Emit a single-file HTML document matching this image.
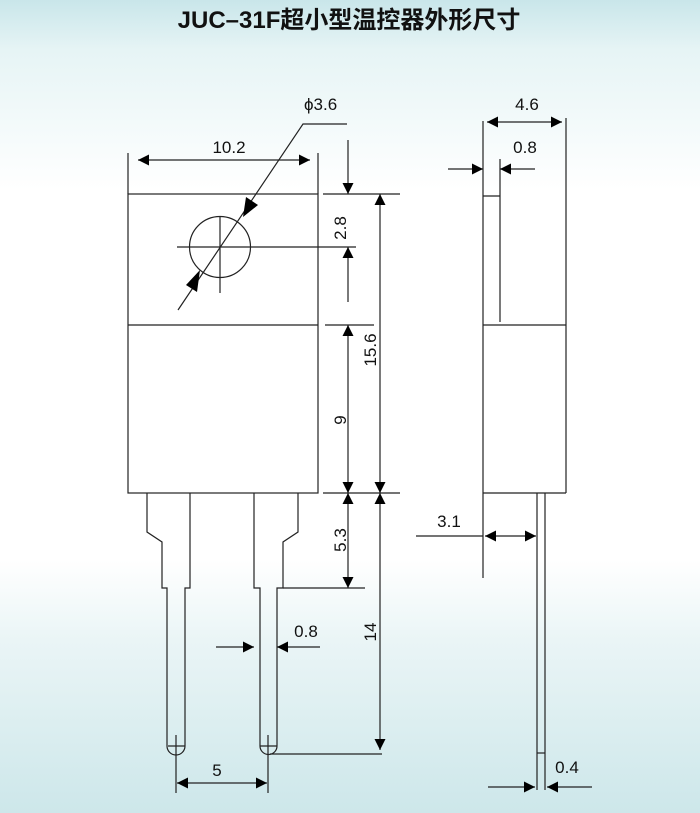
<!DOCTYPE html>
<html><head><meta charset="utf-8"><style>
html,body{margin:0;padding:0}
body{width:700px;height:813px;background:linear-gradient(to bottom,#c9e6ea 0px,#e6f4f5 50px,#fff 190px,#fff 560px,#eaf5f6 640px,#cde7ea 813px);}
svg{position:absolute;left:0;top:0}
</style></head><body>
<svg width="700" height="813" viewBox="0 0 700 813" font-family="Liberation Sans, sans-serif">
<defs>
<marker id="a" viewBox="0 0 10 10" refX="10" refY="5" markerWidth="20" markerHeight="11" markerUnits="userSpaceOnUse" orient="auto-start-reverse"><path d="M0,0L10,5L0,10z" fill="#000"/></marker>
</defs>
<text x="349" y="28" text-anchor="middle" font-size="24" font-weight="bold" font-family="Liberation Sans, Noto Sans CJK SC, sans-serif" fill="#111">JUC–31F超小型温控器外形尺寸</text>
<g stroke="#222" stroke-width="1.2" fill="none">
<rect x="128" y="194" width="190" height="299" fill="#fff"/>
<line x1="128" y1="325" x2="318" y2="325"/>
<circle cx="220" cy="247" r="30.5"/>
<line x1="177" y1="247" x2="356" y2="247"/>
<line x1="220" y1="217" x2="220" y2="293"/>
<polyline points="178,310 303,124 347,124"/>
<path d="M147,493V532L162,542V588H167V746A9,9 0 0 0 185,746V588H190V493"/>
<path d="M254,493V588H260V746A8.5,8.5 0 0 0 277,746V588H283V542L298,532V493"/>
<line x1="176" y1="735" x2="176" y2="793"/><line x1="168" y1="746" x2="185" y2="746"/>
<line x1="268" y1="735" x2="268" y2="793"/><line x1="260" y1="746" x2="277" y2="746"/>
<line x1="128" y1="153" x2="128" y2="194"/><line x1="318" y1="153" x2="318" y2="194"/>
<line x1="323" y1="194" x2="400" y2="194"/>
<line x1="325" y1="325" x2="374" y2="325"/>
<line x1="323" y1="493" x2="400" y2="493"/>
<line x1="283" y1="588" x2="365" y2="588"/>
<line x1="270" y1="754" x2="382" y2="754"/>
<line x1="348" y1="140" x2="348" y2="194" marker-end="url(#a)"/>
<line x1="348" y1="302" x2="348" y2="247" marker-end="url(#a)"/>
<line x1="138" y1="160" x2="310" y2="160" marker-start="url(#a)" marker-end="url(#a)"/>
<line x1="380" y1="194" x2="380" y2="493" marker-start="url(#a)" marker-end="url(#a)"/>
<line x1="348" y1="325" x2="348" y2="493" marker-start="url(#a)" marker-end="url(#a)"/>
<line x1="348" y1="493" x2="348" y2="588" marker-start="url(#a)" marker-end="url(#a)"/>
<line x1="380" y1="493" x2="380" y2="750" marker-start="url(#a)" marker-end="url(#a)"/>
<line x1="216" y1="647" x2="254" y2="647" marker-end="url(#a)"/>
<line x1="320" y1="647" x2="277" y2="647" marker-end="url(#a)"/>
<line x1="177" y1="783" x2="267" y2="783" marker-start="url(#a)" marker-end="url(#a)"/>
<rect x="483" y="194" width="83" height="299" fill="#fff" stroke="none"/>
<line x1="483" y1="121" x2="483" y2="578"/>
<line x1="566" y1="118" x2="566" y2="493"/>
<line x1="500" y1="159" x2="500" y2="322"/>
<line x1="483" y1="196" x2="500" y2="196"/>
<line x1="483" y1="325" x2="566" y2="325"/>
<line x1="483" y1="493" x2="566" y2="493"/>
<line x1="537" y1="493" x2="537" y2="790"/>
<line x1="545" y1="493" x2="545" y2="790"/>
<line x1="537" y1="753" x2="545" y2="753"/>
<line x1="487" y1="122" x2="562" y2="122" marker-start="url(#a)" marker-end="url(#a)"/>
<line x1="448" y1="169" x2="483" y2="169" marker-end="url(#a)"/>
<line x1="535" y1="169" x2="500" y2="169" marker-end="url(#a)"/>
<line x1="416" y1="536" x2="483" y2="536"/>
<line x1="485" y1="536" x2="536" y2="536" marker-start="url(#a)" marker-end="url(#a)"/>
<line x1="488" y1="787" x2="535" y2="787" marker-end="url(#a)"/>
<line x1="592" y1="787" x2="547" y2="787" marker-end="url(#a)"/>
</g>
<path d="M243,217L246,197L258,205z" fill="#000"/>
<path d="M200,270L186,285L197,292z" fill="#000"/>
<g font-size="17" fill="#111">
<text x="229" y="153" text-anchor="middle">10.2</text>
<text x="304" y="110">ϕ3.6</text>
<text x="527" y="110" text-anchor="middle">4.6</text>
<text x="525" y="153" text-anchor="middle">0.8</text>
<text x="449" y="527" text-anchor="middle">3.1</text>
<text x="567" y="773" text-anchor="middle">0.4</text>
<text x="306" y="637" text-anchor="middle">0.8</text>
<text x="217" y="776" text-anchor="middle">5</text>
<text transform="translate(346,228) rotate(-90)" text-anchor="middle">2.8</text>
<text transform="translate(376,350) rotate(-90)" text-anchor="middle">15.6</text>
<text transform="translate(346,420) rotate(-90)" text-anchor="middle">9</text>
<text transform="translate(346,540) rotate(-90)" text-anchor="middle">5.3</text>
<text transform="translate(376,632) rotate(-90)" text-anchor="middle">14</text>
</g>
</svg>
</body></html>
